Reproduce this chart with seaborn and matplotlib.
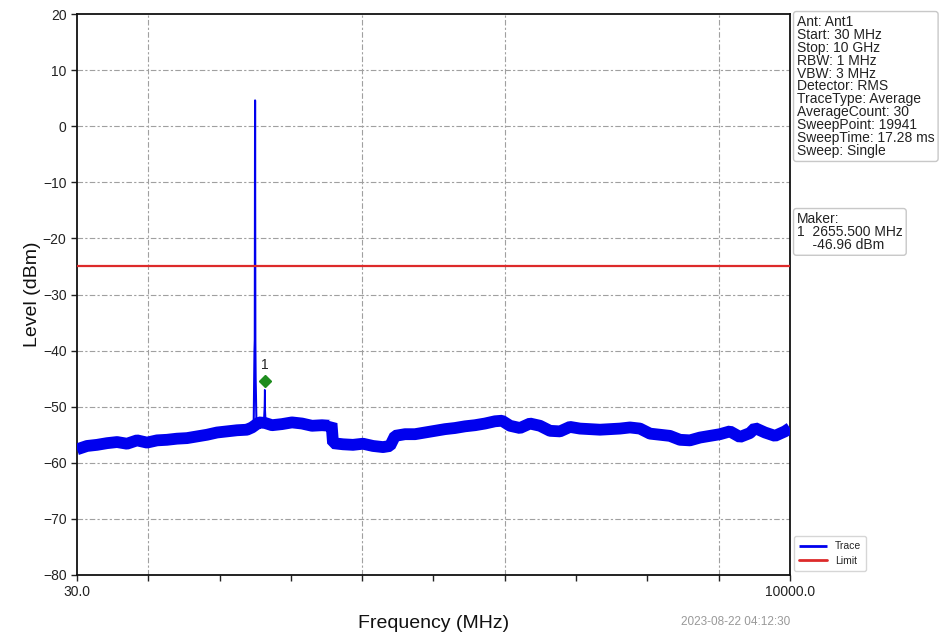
import numpy as np
import pandas as pd
import matplotlib
matplotlib.use("Agg")
import matplotlib.pyplot as plt
import seaborn as sns

# ---------------- data ----------------
trace_freq = [30, 170, 310, 450, 590, 729, 869, 1009, 1149, 1288, 1428, 1568, 1708,
              1848, 1988, 2127, 2267, 2407, 2477, 2575, 2659, 2757, 2897, 3036, 3176,
              3316, 3456, 3568, 3589, 3610, 3750, 3889, 4029, 4169, 4309, 4407, 4477,
              4617, 4756, 4896, 5036, 5176, 5315, 5455, 5595, 5735, 5875, 5973, 6085,
              6224, 6364, 6504, 6644, 6784, 6923, 7063, 7203, 7343, 7483, 7622, 7762,
              7902, 8042, 8182, 8321, 8461, 8601, 8741, 8881, 9021, 9160, 9300, 9440,
              9510, 9650, 9790, 9930, 10000]
trace_level = [-57.6, -57.0, -56.8, -56.5, -56.3, -56.6, -56.0, -56.4, -56.0, -55.9,
               -55.7, -55.6, -55.3, -55.0, -54.6, -54.4, -54.2, -54.1, -53.7, -52.8,
               -52.9, -53.3, -53.1, -52.8, -53.0, -53.4, -53.3, -53.4, -53.0, -56.5,
               -56.7, -56.8, -56.6, -57.0, -57.2, -57.0, -55.2, -54.9, -54.9, -54.6,
               -54.3, -54.0, -53.8, -53.5, -53.3, -53.0, -52.6, -52.5, -53.4, -53.8,
               -53.0, -53.4, -54.3, -54.4, -53.6, -53.9, -54.0, -54.1, -54.0, -53.9,
               -53.7, -53.9, -54.8, -55.0, -55.2, -55.9, -56.0, -55.5, -55.2, -54.9,
               -54.4, -55.4, -54.7, -53.8, -54.6, -55.2, -54.4, -53.8]

spike_freq = [2500, 2512, 2516, 2520, 2524, 2528, 2540]
spike_level = [-54.0, -40.0, -38.1, 4.6, -38.5, -45.0, -53.5]

marker_line_freq = [2640, 2652, 2655.5, 2659, 2670]
marker_line_level = [-53.0, -50.0, -47.0, -50.0, -53.0]

marker_freq = 2655.5
marker_level = -45.5
marker_label = "1"

limit_level = -25.0

x_min, x_max = 30.0, 10000.0
y_ticks = [20, 10, 0, -10, -20, -30, -40, -50, -60, -70, -80]
x_tick_labels = ["30.0", "", "", "", "", "", "", "", "", "", "10000.0"]
x_grid_index = [1, 4, 6, 9]

info_lines = ["Ant: Ant1", "Start: 30 MHz", "Stop: 10 GHz", "RBW: 1 MHz", "VBW: 3 MHz",
              "Detector: RMS", "TraceType: Average", "AverageCount: 30",
              "SweepPoint: 19941", "SweepTime: 17.28 ms", "Sweep: Single"]
maker_lines = ["Maker:", "1  2655.500 MHz", "    -46.96 dBm"]
timestamp = "2023-08-22 04:12:30"

# ---------------- style ----------------
sns.set_style("ticks")
plt.rcParams["font.family"] = ["Liberation Sans", "DejaVu Sans"]

W, H = 940, 638
fig = plt.figure(figsize=(W / 100, H / 100), dpi=100)
ax = fig.add_axes([77 / W, 1 - 575 / H, (790 - 77) / W, (575 - 14) / H])

TRACE_COLOR = "#0000ee"

df = pd.DataFrame({"freq": trace_freq, "level": trace_level})
sns.lineplot(data=df, x="freq", y="level", ax=ax, color=TRACE_COLOR, lw=8.5,
             estimator=None, sort=False, label="Trace", zorder=3,
             solid_joinstyle="bevel", solid_capstyle="butt")
sns.lineplot(x=spike_freq, y=spike_level, ax=ax, color=TRACE_COLOR, lw=1.5,
             estimator=None, sort=False, zorder=3)
sns.lineplot(x=marker_line_freq, y=marker_line_level, ax=ax, color=TRACE_COLOR, lw=1.2,
             estimator=None, sort=False, zorder=3)

ax.axhline(limit_level, color="#dd2a2a", lw=1.6, zorder=4, label="Limit")

ax.plot([marker_freq], [marker_level], marker="D", ms=6.5, color="#1e8c1e",
        ls="none", zorder=5)
ax.text(marker_freq, marker_level + 1.6, marker_label, ha="center", va="bottom",
        fontsize=10, color="#222222", zorder=5)

ax.set_xlim(x_min, x_max)
ax.set_ylim(-80, 20)
ax.set_yticks(y_ticks)
x_ticks = np.linspace(x_min, x_max, len(x_tick_labels))
ax.set_xticks(x_ticks)
ax.set_xticklabels(x_tick_labels)
ax.tick_params(axis="both", direction="out", length=4, width=1, labelsize=10,
               colors="#222222")

for y in y_ticks[1:-1]:
    ax.axhline(y, color="#a0a0a0", lw=0.8, ls=(0, (5, 2, 2, 2)), zorder=1)
for i in x_grid_index:
    ax.axvline(x_ticks[i], color="#a0a0a0", lw=0.8, ls=(0, (5, 2, 2, 2)), zorder=1)

for s in ax.spines.values():
    s.set_visible(True)
    s.set_color("#111111")
    s.set_linewidth(1.3)

ax.set_xlabel("Frequency (MHz)", fontsize=14, labelpad=11, color="#111111")
ax.set_ylabel("Level (dBm)", fontsize=14, labelpad=1, color="#111111")

handles, labels = ax.get_legend_handles_labels()
ax.get_legend().remove()
leg = fig.legend(handles, labels, loc="lower left",
                 bbox_to_anchor=(789 / W, 1 - 576 / H), fontsize=7.5,
                 frameon=True, handlelength=2.6, borderpad=0.5, labelspacing=0.4,
                 fancybox=True, edgecolor="#cccccc")
for lh in leg.get_lines():
    lh.set_linewidth(2)

box = dict(boxstyle="round,pad=0.25,rounding_size=0.2", facecolor="white",
           edgecolor="#c8c8c8", lw=1)
fig.text(797 / W, 1 - 15 / H, "\n".join(info_lines), ha="left", va="top",
         fontsize=10, linespacing=0.9, color="#222222", bbox=box)
fig.text(797 / W, 1 - 212 / H, "\n".join(maker_lines), ha="left", va="top",
         fontsize=10, linespacing=0.9, color="#222222", bbox=box)

fig.text(790 / W, 1 - 622 / H, timestamp, ha="right", va="center",
         fontsize=8.5, color="#999999")

fig.savefig("out.png", dpi=100)
